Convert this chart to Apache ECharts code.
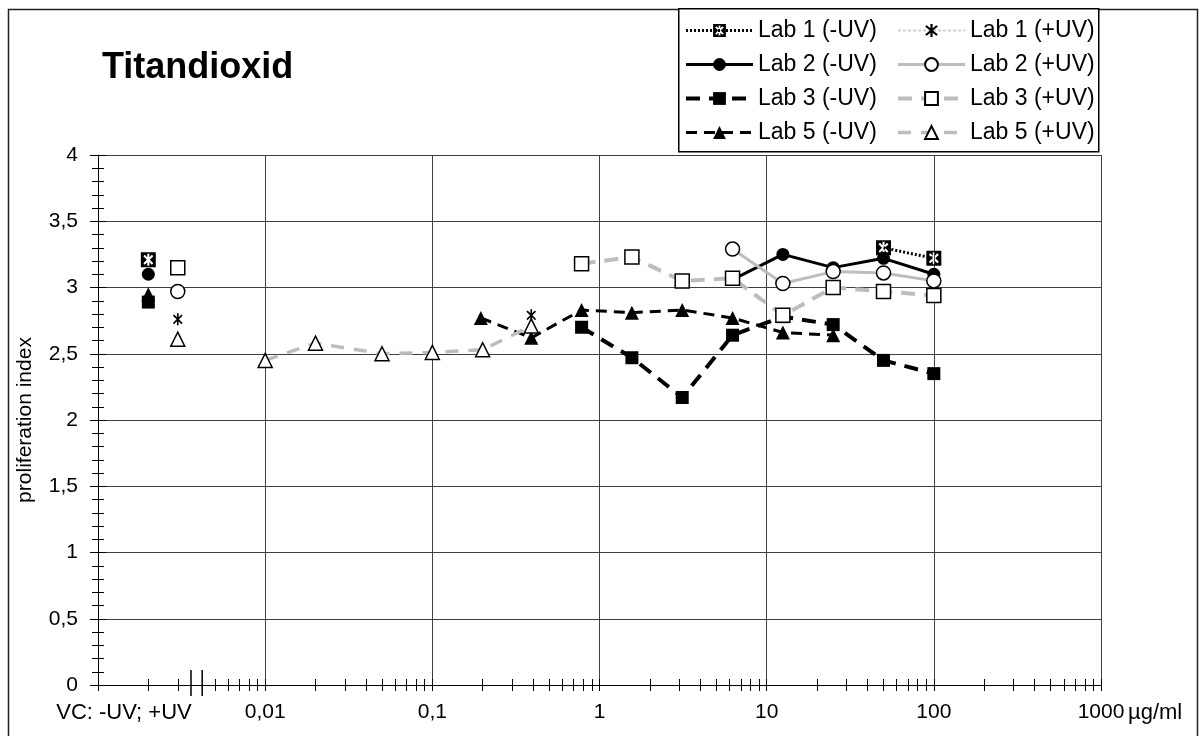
<!DOCTYPE html>
<html>
<head>
<meta charset="utf-8">
<script src="https://cdn.jsdelivr.net/npm/echarts@6/dist/echarts.min.js"></script>
<style>
html, body { margin: 0; padding: 0; background: #fff; }
#main { width: 1199px; height: 736px; }
</style>
</head>
<body>
<div id="main"></div>
<script>
// Werte
var vcX = [0.002, 0.003];                      // VC -UV ; VC +UV
var vcMinusUV = [3.21, 3.10, 2.89, 2.95];      // Lab 1, 2, 3, 5
var vcPlusUV = [2.76, 2.97, 3.15, 2.61];

var lab1MinusX = [50, 100];
var lab1MinusY = [3.30, 3.22];
var lab1PlusX = [0.390625];
var lab1PlusY = [2.79];

var lab2X = [6.25, 12.5, 25, 50, 100];
var lab2MinusY = [3.06, 3.25, 3.15, 3.22, 3.10];
var lab2PlusY = [3.29, 3.03, 3.12, 3.11, 3.05];

var lab3X = [0.78125, 1.5625, 3.125, 6.25, 12.5, 25, 50, 100];
var lab3MinusY = [2.70, 2.47, 2.17, 2.64, 2.78, 2.72, 2.45, 2.35];
var lab3PlusY = [3.18, 3.23, 3.05, 3.07, 2.79, 3.00, 2.97, 2.94];

var lab5MinusX = [0.195, 0.390625, 0.78125, 1.5625, 3.125, 6.25, 12.5, 25];
var lab5MinusY = [2.77, 2.62, 2.83, 2.81, 2.83, 2.77, 2.66, 2.64];
var lab5PlusX = [0.01, 0.02, 0.05, 0.1, 0.2, 0.390625];
var lab5PlusY = [2.45, 2.58, 2.50, 2.51, 2.53, 2.71];

var xDecadeLabels = ['', '0,01', '0,1', '1', '10', '100', '1000'];
var legendMinus = ['Lab 1 (-UV)', 'Lab 2 (-UV)', 'Lab 3 (-UV)', 'Lab 5 (-UV)'];
var legendPlus = ['Lab 1 (+UV)', 'Lab 2 (+UV)', 'Lab 3 (+UV)', 'Lab 5 (+UV)'];

var FONT = '"Liberation Sans", Arial, sans-serif';

// kleine Striche 2..9 je Dekade, 0,004 fällt wegen Achsenbruch weg
var xTickValues = [];
[0.001, 0.01, 0.1, 1, 10, 100].forEach(function (d) {
    for (var k = 1; k < 10; k++) {
        if (d === 0.001 && k === 4) continue;
        xTickValues.push(+(d * k).toPrecision(3));
    }
});
xTickValues.push(1000);

// Stern (* mit senkrechtem Strich) als Polygon
function starPoints(c, L, w) {
    var angles = [45, 90, 135, 225, 270, 315];
    var pts = [];
    for (var i = 0; i < angles.length; i++) {
        var a = angles[i] * Math.PI / 180;
        var a2 = angles[(i + 1) % angles.length] * Math.PI / 180;
        var dx = Math.cos(a), dy = Math.sin(a);
        var nx = -Math.sin(a), ny = Math.cos(a);
        var n2x = -Math.sin(a2), n2y = Math.cos(a2);
        pts.push([c + L * dx - w * nx, c + L * dy - w * ny]);
        pts.push([c + L * dx + w * nx, c + L * dy + w * ny]);
        var det = nx * n2y - ny * n2x;
        var px = w * (n2y + ny) / det;
        var py = -w * (nx + n2x) / det;
        pts.push([c + px, c + py]);
    }
    return pts;
}
function toPath(pts) {
    return 'M' + pts.map(function (p) { return p[0].toFixed(2) + ',' + p[1].toFixed(2); }).join('L') + 'Z';
}
var starSymbol = 'path://' + toPath(starPoints(50, 50, 7));
var boxStarSymbol = 'path://M0,0L100,0L100,100L0,100Z' + toPath(starPoints(50, 40, 7).reverse());

function withVC(vcx, vcy, xs, ys) {
    var d = [[vcx, vcy], [vcx * 1.2, '-']];
    xs.forEach(function (x, i) { d.push([x, ys[i]]); });
    return d;
}

function makeSeries(name, data, line, sym) {
    return {
        name: name,
        type: 'line',
        data: data,
        connectNulls: false,
        showAllSymbol: true,
        symbol: sym.symbol,
        symbolSize: sym.size,
        symbolKeepAspect: true,
        lineStyle: line,
        itemStyle: { color: sym.fill, borderColor: '#000', borderWidth: sym.border },
        emphasis: { disabled: true }
    };
}

var BLACK = '#000';
var GREY = '#bdbdbd';

var series = [
    makeSeries('Lab 5 (-UV)', withVC(vcX[0], vcMinusUV[3], lab5MinusX, lab5MinusY),
        { color: BLACK, width: 3, type: [11, 7] }, { symbol: 'triangle', size: 14, fill: BLACK, border: 0 }),
    makeSeries('Lab 3 (-UV)', withVC(vcX[0], vcMinusUV[2], lab3X, lab3MinusY),
        { color: BLACK, width: 4, type: [14, 9] }, { symbol: 'rect', size: 13, fill: BLACK, border: 0 }),
    makeSeries('Lab 2 (-UV)', withVC(vcX[0], vcMinusUV[1], lab2X, lab2MinusY),
        { color: BLACK, width: 3, type: 'solid' }, { symbol: 'circle', size: 13, fill: BLACK, border: 0 }),
    makeSeries('Lab 5 (+UV)', withVC(vcX[1], vcPlusUV[3], lab5PlusX, lab5PlusY),
        { color: GREY, width: 3.5, type: [13, 10] }, { symbol: 'triangle', size: 14, fill: '#fff', border: 1.5 }),
    makeSeries('Lab 3 (+UV)', withVC(vcX[1], vcPlusUV[2], lab3X, lab3PlusY),
        { color: GREY, width: 4, type: [14, 9] }, { symbol: 'rect', size: 14, fill: '#fff', border: 1.5 }),
    makeSeries('Lab 2 (+UV)', withVC(vcX[1], vcPlusUV[1], lab2X, lab2PlusY),
        { color: GREY, width: 3, type: 'solid' }, { symbol: 'circle', size: 14, fill: '#fff', border: 1.5 }),
    makeSeries('Lab 1 (+UV)', withVC(vcX[1], vcPlusUV[0], lab1PlusX, lab1PlusY),
        { color: '#cfcfcf', width: 2, type: [3, 2] }, { symbol: starSymbol, size: 12, fill: BLACK, border: 0 }),
    makeSeries('Lab 1 (-UV)', withVC(vcX[0], vcMinusUV[0], lab1MinusX, lab1MinusY),
        { color: BLACK, width: 3, type: [2, 2] }, { symbol: boxStarSymbol, size: 15, fill: BLACK, border: 0 })
];

var gridLine = { show: true, lineStyle: { color: '#404040', width: 1 } };
var labelStyle = { color: '#000', fontFamily: FONT, fontSize: 21 };

function logAxis(extra) {
    return Object.assign({
        type: 'log', logBase: 10, min: 0.001, max: 1000, splitNumber: 6, position: 'bottom',
        axisLine: { show: false },
        axisLabel: { show: false },
        splitLine: { show: false }
    }, extra);
}

function legendColumn(names, left) {
    return {
        data: names,
        orient: 'vertical',
        left: left, top: 19,
        padding: 0,
        itemWidth: 67, itemHeight: 16, itemGap: 11,
        selectedMode: false,
        lineStyle: { width: 'inherit' },
        textStyle: { color: '#000', fontFamily: FONT, fontSize: 23 }
    };
}

var chart = echarts.init(document.getElementById('main'), null, { renderer: 'canvas' });
chart.setOption({
    animation: false,
    backgroundColor: '#fff',
    textStyle: { fontFamily: FONT },
    grid: { left: 98, right: 98, top: 155, bottom: 51 },
    legend: [legendColumn(legendMinus, 684), legendColumn(legendPlus, 896)],
    xAxis: [
        logAxis({
            axisLine: { show: true, lineStyle: { color: '#000', width: 1 } },
            axisTick: { show: true, inside: false, length: 6, lineStyle: { color: '#000' } },
            axisLabel: Object.assign({
                show: true,
                margin: 17,
                formatter: function (v) { return xDecadeLabels[Math.round(Math.log10(v)) + 3]; }
            }, labelStyle),
            splitLine: gridLine
        }),
        logAxis({ axisTick: { show: true, inside: true, length: 6, customValues: xTickValues, lineStyle: { color: '#000' } } }),
        logAxis({ axisTick: { show: true, inside: false, length: 6, customValues: xTickValues, lineStyle: { color: '#000' } } })
    ],
    yAxis: [{
        type: 'value', min: 0, max: 4, interval: 0.5,
        name: 'proliferation index', nameLocation: 'middle', nameGap: 62,
        nameTextStyle: { color: '#000', fontFamily: FONT, fontSize: 21 },
        axisLine: { show: true, lineStyle: { color: '#000', width: 1 } },
        axisTick: { show: true, inside: false, length: 8, lineStyle: { color: '#000' } },
        minorTick: { show: true, splitNumber: 5, length: 6, lineStyle: { color: '#000' } },
        axisLabel: Object.assign({
            margin: 20,
            formatter: function (v) { return String(v).replace('.', ','); }
        }, labelStyle),
        splitLine: gridLine
    }, {
        type: 'value', min: 0, max: 4, interval: 0.5, position: 'left',
        axisLine: { show: false },
        axisTick: { show: true, inside: true, length: 8, lineStyle: { color: '#000' } },
        minorTick: { show: true, splitNumber: 5, length: 6, lineStyle: { color: '#000' } },
        axisLabel: { show: false },
        splitLine: { show: false }
    }],
    series: series
});

// Achsenbruch, VC-Beschriftung, Einheit, Titel, Rahmen
var b1 = chart.convertToPixel({ xAxisIndex: 0 }, 0.0036);
var b2 = chart.convertToPixel({ xAxisIndex: 0 }, 0.0042);
var y0 = chart.convertToPixel({ yAxisIndex: 0 }, 0);
var x1000 = chart.convertToPixel({ xAxisIndex: 0 }, 1000);
chart.setOption({
    graphic: [
        { type: 'rect', shape: { x: 8.5, y: 9.5, width: 1189, height: 740 },
          style: { fill: 'none', stroke: '#222', lineWidth: 1.5 }, silent: true, z: -1 },
        { type: 'rect', shape: { x: 678.75, y: 8.75, width: 420, height: 143 },
          style: { fill: '#fff', stroke: '#000', lineWidth: 1.5 }, silent: true, z: 3 },
        { type: 'line', shape: { x1: b1, y1: y0 - 15, x2: b1, y2: y0 + 11 },
          style: { stroke: '#000', lineWidth: 1.5 } },
        { type: 'line', shape: { x1: b2, y1: y0 - 15, x2: b2, y2: y0 + 11 },
          style: { stroke: '#000', lineWidth: 1.5 } },
        { type: 'text', style: { x: 124, y: y0 + 28, text: 'VC: -UV; +UV', textAlign: 'center',
          textVerticalAlign: 'middle', fill: '#000', font: '22px ' + FONT } },
        { type: 'text', style: { x: x1000 + 27, y: y0 + 28, text: 'µg/ml', textAlign: 'left',
          textVerticalAlign: 'middle', fill: '#000', font: '22px ' + FONT } },
        { type: 'text', style: { x: 102, y: 68, text: 'Titandioxid', textAlign: 'left',
          textVerticalAlign: 'middle', fill: '#000', font: 'bold 36px ' + FONT } }
    ]
});

window.onresize = function () {
    chart.resize();
};
</script>
</body>
</html>
